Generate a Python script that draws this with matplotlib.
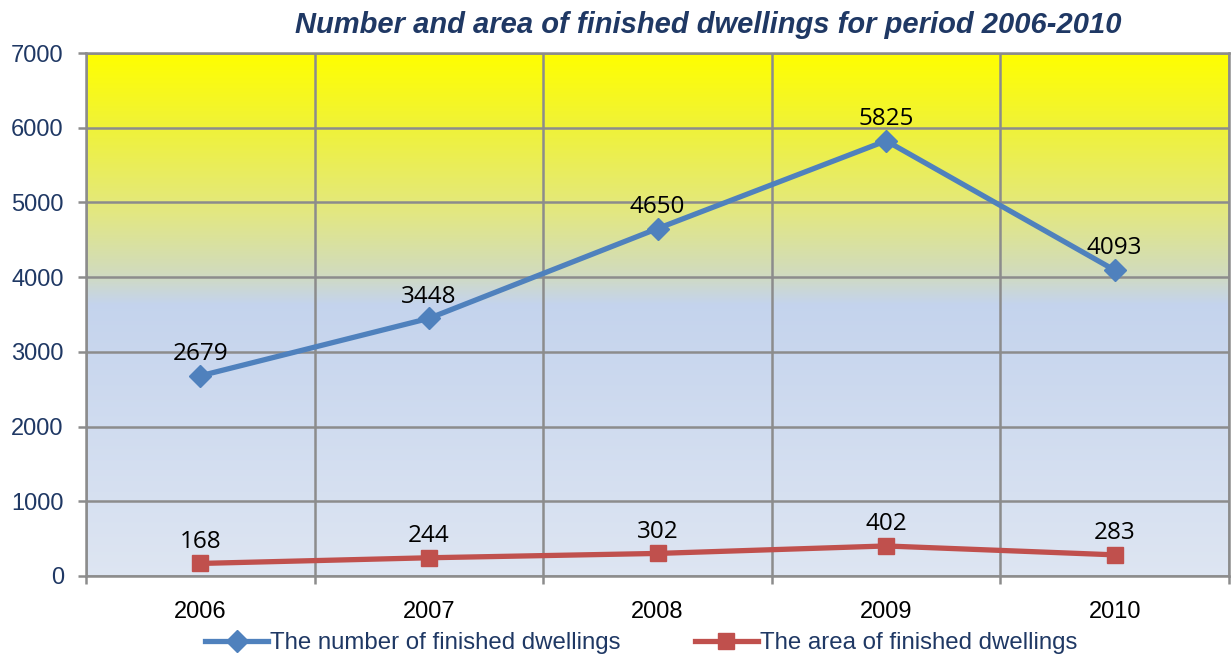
import numpy as np
import matplotlib.pyplot as plt
from matplotlib.colors import LinearSegmentedColormap

years = ["2006", "2007", "2008", "2009", "2010"]
number_dwellings = [2679, 3448, 4650, 5825, 4093]
area_dwellings = [168, 244, 302, 402, 283]

navy = "#1F3864"
blue = "#4F81BD"
red = "#C0504D"
grid_col = "#8C8C8C"

fig = plt.figure(figsize=(12.31, 6.56), dpi=100)
ax = fig.add_axes([86 / 1231, 1 - 576 / 656, (1229 - 86) / 1231, (576 - 53) / 656])

x = np.arange(len(years))

# background gradient (top -> bottom)
stops = [(0.0, (1.0, 1.0, 0.0)),
         (0.14, (0.94, 0.95, 0.22)),
         (0.30, (0.89, 0.91, 0.50)),
         (0.42, (0.82, 0.86, 0.74)),
         (0.48, (0.77, 0.83, 0.93)),
         (1.0, (0.87, 0.90, 0.95))]
cmap = LinearSegmentedColormap.from_list("bg", stops)
grad = np.linspace(0, 1, 256).reshape(-1, 1)
ax.imshow(grad, cmap=cmap, aspect="auto", extent=[-0.5, len(years) - 0.5, 0, 7000],
          origin="upper", zorder=0)
ax.set_xlim(-0.5, len(years) - 0.5)
ax.set_ylim(0, 7000)

# grid
for v in range(0, 7001, 1000):
    ax.axhline(v, color=grid_col, lw=1.8, zorder=1)
for b in np.arange(-0.5, len(years), 1.0):
    ax.axvline(b, color=grid_col, lw=1.8, zorder=1)

ax.plot(x, number_dwellings, color=blue, lw=3.8, marker="D", ms=11,
        label="The number of finished dwellings", zorder=3)
ax.plot(x, area_dwellings, color=red, lw=3.8, marker="s", ms=11,
        label="The area of finished dwellings", zorder=3)

for xi, v in zip(x, number_dwellings):
    ax.annotate(str(v), (xi, v), xytext=(0, 7), textcoords="offset points",
                ha="center", va="bottom", fontsize=17.5, family="Open Sans", color="black")
for xi, v in zip(x, area_dwellings):
    ax.annotate(str(v), (xi, v), xytext=(0, 7), textcoords="offset points",
                ha="center", va="bottom", fontsize=17.5, family="Open Sans", color="black")

ax.set_yticks(range(0, 7001, 1000))
ax.set_yticklabels([str(v) for v in range(0, 7001, 1000)], fontsize=17,
                   family="Liberation Sans", color=navy)
ax.set_xticks(x)
ax.set_xticklabels(years, fontsize=17, family="Liberation Sans", color="black")
ax.tick_params(axis="x", length=0, pad=18)
ax.tick_params(axis="y", length=6, color=grid_col, width=1.8, pad=10)
ax.set_xticks(np.arange(-0.5, len(years), 1.0), minor=True)
ax.tick_params(axis="x", which="minor", length=6, color=grid_col, width=1.8)
for s in ax.spines.values():
    s.set_color(grid_col)
    s.set_linewidth(1.8)

fig.text(0.575, 1 - 25 / 656, "Number and area of finished dwellings for period 2006-2010",
         ha="center", va="center", fontsize=21, fontweight="bold", fontstyle="italic",
         family="Liberation Sans", color=navy)

leg = fig.legend(loc="center", bbox_to_anchor=(0.521, 1 - 643 / 656), ncol=2, frameon=False,
                 prop={"family": "Liberation Sans", "size": 17.3}, handlelength=2.6,
                 columnspacing=3.1, handletextpad=0.1, borderaxespad=0, borderpad=0)
for t in leg.get_texts():
    t.set_color(navy)

fig.savefig("out.png", dpi=100)
